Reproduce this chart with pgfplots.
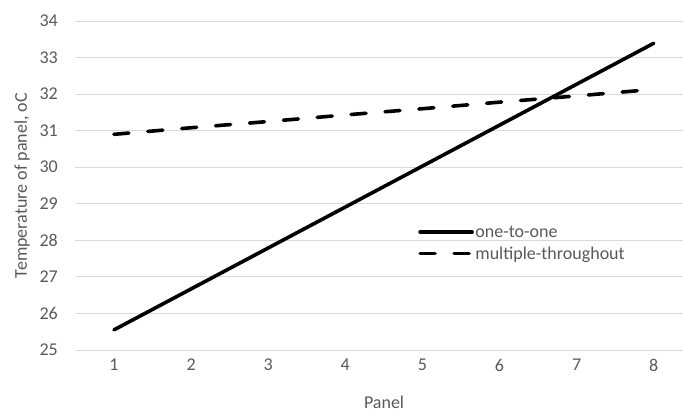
\documentclass[border=0pt]{standalone}
\usepackage{fontspec}
\setmainfont{Carlito}
\usepackage{pgfplots}
\pgfplotsset{compat=1.18}
\definecolor{txt}{HTML}{595959}
\definecolor{grd}{HTML}{D9D9D9}
\begin{document}
\begin{tikzpicture}[x=1pt,y=1pt]
\useasboundingbox (0,0) rectangle (683,412);
\begin{axis}[
  at={(75.4pt,62pt)}, anchor=south west,
  scale only axis, width=607.6pt, height=329pt,
  xmin=0.5, xmax=8.38, ymin=25, ymax=34,
  xtick={1,...,8}, ytick={25,...,34},
  axis line style={draw=none},
  major tick length=0pt,
  ymajorgrids, grid style={grd, line width=0.9pt},
  clip=false,
  font=\fontsize{18}{21}\selectfont,
  tick label style={text=txt, font=\fontsize{18}{21}\selectfont},
  /pgf/number format/assume math mode=true,
  xticklabel style={anchor=center, yshift=-15pt},
  yticklabel style={anchor=east, xshift=-14pt},
  xlabel={Panel}, xlabel style={text=txt, at={(axis description cs:0.508,-0.158)}, anchor=center},
  ylabel={Temperature of panel, oC}, ylabel style={text=txt, at={(axis description cs:-0.0879,0.5)}, anchor=center},
  legend style={draw=none, fill=none, at={(axis description cs:0.564,0.383)}, anchor=north west, text=txt, font=\fontsize{18}{21}\selectfont, row sep=5pt, inner sep=0pt, nodes={inner sep=1.5pt}},
  legend cell align=left,
  legend image code/.code={\draw[#1] (0pt,0pt) -- (52pt,0pt);},
]
\addplot[black, line width=3.6pt, line cap=round] coordinates {
 (1,25.55) (2,26.67) (3,27.79) (4,28.91) (5,30.03) (6,31.15) (7,32.27) (8,33.39)};
\addlegendentry{one-to-one}
\addplot[black, line width=3.6pt, line cap=round, dash pattern=on 15pt off 19pt] coordinates {
 (1,30.9) (2,31.08) (3,31.25) (4,31.43) (5,31.6) (6,31.78) (7,31.95) (8,32.13)};
\addlegendentry{multiple-throughout}
\end{axis}
\end{tikzpicture}
\end{document}
